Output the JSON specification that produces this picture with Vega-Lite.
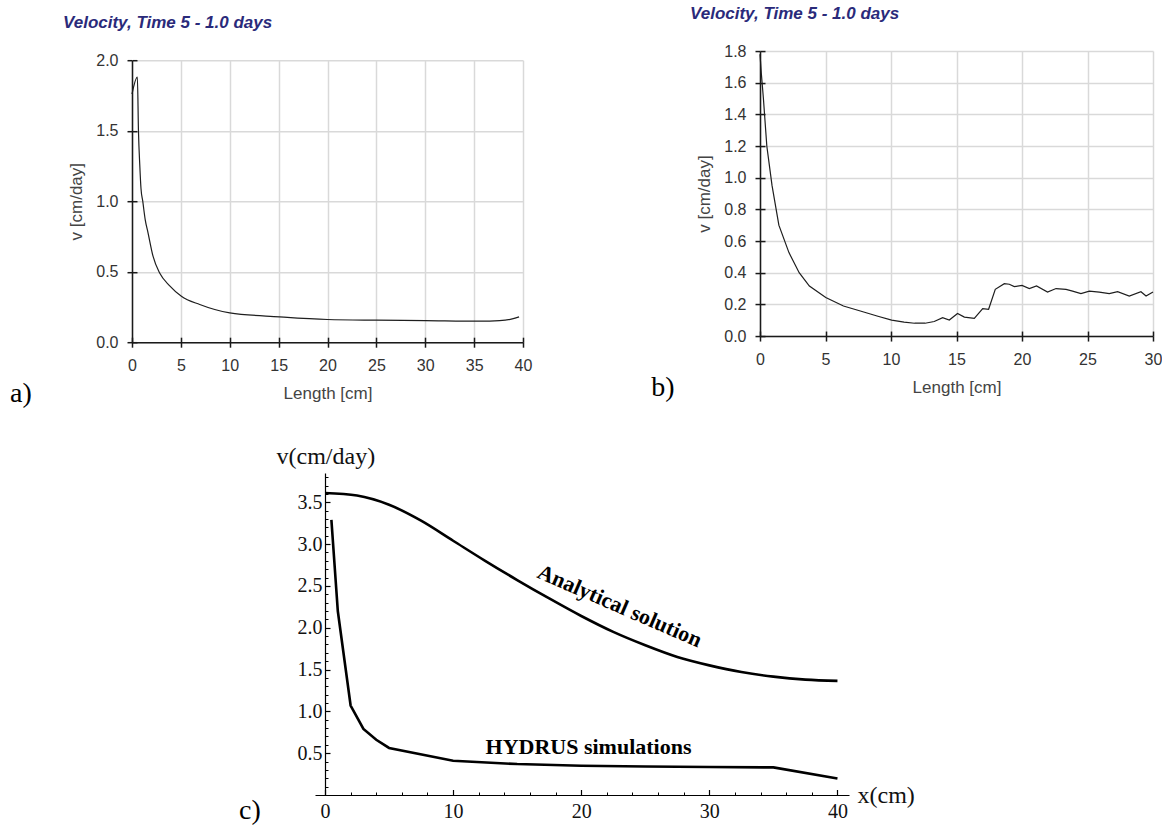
{
  "$schema": "https://vega.github.io/schema/vega-lite/v6.json",
  "background": "white",
  "padding": {"left": 10, "top": 5, "right": 0, "bottom": 0},
  "config": {"view": {"stroke": null}},
  "spacing": 27,
  "vconcat": [
    {
      "spacing": 119,
      "center": true,
      "hconcat": [
        {
          "title": {"text": "a)", "orient": "bottom", "anchor": "start", "frame": "bounds", "offset": 0, "dx": -53, "dy": -21.4, "font": "Liberation Serif", "fontSize": 28, "fontWeight": "normal", "color": "#000000"},
          "vconcat": [
            {
              "width": 391,
              "height": 282,
              "title": {"text": "Velocity, Time 5 - 1.0 days", "anchor": "start", "frame": "group", "dx": -69, "offset": 20, "font": "Liberation Sans", "fontSize": 17, "fontWeight": "bold", "fontStyle": "italic", "color": "#2a2a7a"},
              "data": {"values": [
                {"length": 0, "v": 1.76}, {"length": 0.55, "v": 1.88}, {"length": 0.66, "v": 1.5}, {"length": 0.8, "v": 1.25},
                {"length": 0.92, "v": 1.09}, {"length": 1.1, "v": 1.0}, {"length": 1.35, "v": 0.87}, {"length": 1.64, "v": 0.776},
                {"length": 2.15, "v": 0.61}, {"length": 2.83, "v": 0.49}, {"length": 3.86, "v": 0.40}, {"length": 5.05, "v": 0.326},
                {"length": 6.93, "v": 0.267}, {"length": 10, "v": 0.208}, {"length": 15.1, "v": 0.18}, {"length": 20, "v": 0.161},
                {"length": 25, "v": 0.156}, {"length": 30, "v": 0.153}, {"length": 35.6, "v": 0.149}, {"length": 37.6, "v": 0.153},
                {"length": 38.9, "v": 0.165}, {"length": 39.6, "v": 0.18}
              ]},
              "resolve": {"axis": {"x": "independent", "y": "independent"}},
              "layer": [
                {
                  "mark": {"type": "line", "color": "#1e1e1e", "strokeWidth": 1.2, "interpolate": "monotone"},
                  "encoding": {
                    "x": {"field": "length", "type": "quantitative", "scale": {"domain": [0, 40], "nice": false, "zero": false},
                      "axis": {"orient": "bottom", "values": [0, 5, 10, 15, 20, 25, 30, 35, 40], "format": "d", "domain": false, "grid": true, "gridColor": "#d9d9d9", "gridWidth": 1.5, "tickSize": 5, "tickColor": "#1a1a1a", "tickWidth": 1.5, "labelFont": "Liberation Sans", "labelFontSize": 16, "labelColor": "#333333", "labelPadding": 10, "labelFlush": false, "labelOverlap": false, "title": "Length [cm]", "titleFont": "Liberation Sans", "titleFontSize": 17, "titleFontWeight": "normal", "titleColor": "#444444", "titlePadding": 12, "zindex": 0}},
                    "y": {"field": "v", "type": "quantitative", "scale": {"domain": [0, 2], "nice": false},
                      "axis": {"orient": "left", "values": [0, 0.5, 1, 1.5, 2], "format": ".1f", "domain": false, "grid": true, "gridColor": "#d9d9d9", "gridWidth": 1.5, "tickSize": 5, "tickColor": "#1a1a1a", "tickWidth": 1.5, "labelFont": "Liberation Sans", "labelFontSize": 16, "labelColor": "#333333", "labelPadding": 9, "labelFlush": false, "labelOverlap": false, "title": "v [cm/day]", "titleFont": "Liberation Sans", "titleFontSize": 17, "titleFontWeight": "normal", "titleColor": "#444444", "titlePadding": 10, "zindex": 0}}
                  }
                },
                {
                  "mark": {"type": "line", "strokeOpacity": 0},
                  "encoding": {
                    "x": {"field": "length", "type": "quantitative", "scale": {"domain": [0, 40], "nice": false, "zero": false},
                      "axis": {"orient": "bottom", "values": [0, 5, 10, 15, 20, 25, 30, 35, 40], "domain": true, "domainColor": "#1a1a1a", "domainWidth": 1.5, "grid": false, "labels": false, "tickSize": -5, "tickColor": "#1a1a1a", "tickWidth": 1.5, "title": null, "zindex": 1}},
                    "y": {"field": "v", "type": "quantitative", "scale": {"domain": [0, 2], "nice": false},
                      "axis": {"orient": "left", "values": [0, 0.5, 1, 1.5, 2], "domain": true, "domainColor": "#1a1a1a", "domainWidth": 1.5, "grid": false, "labels": false, "tickSize": -5, "tickColor": "#1a1a1a", "tickWidth": 1.5, "title": null, "zindex": 1}}
                  }
                }
              ]
            }
          ]
        },
        {
          "title": {"text": ["b)", ""], "lineHeight": 15.3, "orient": "bottom", "anchor": "start", "frame": "bounds", "offset": 0, "dx": -38.7, "dy": -21.4, "font": "Liberation Serif", "fontSize": 28, "fontWeight": "normal", "color": "#000000"},
          "vconcat": [
            {
              "width": 393,
              "height": 285,
              "title": {"text": "Velocity, Time 5 - 1.0 days", "anchor": "start", "frame": "group", "dx": -70, "offset": 20, "font": "Liberation Sans", "fontSize": 17, "fontWeight": "bold", "fontStyle": "italic", "color": "#2a2a7a"},
              "data": {"values": [
                {"length": 0, "v": 1.78}, {"length": 0.1, "v": 1.66}, {"length": 0.26, "v": 1.5}, {"length": 0.52, "v": 1.2},
                {"length": 0.92, "v": 0.95}, {"length": 1.44, "v": 0.7}, {"length": 2.21, "v": 0.527}, {"length": 2.99, "v": 0.40},
                {"length": 3.77, "v": 0.316}, {"length": 5.02, "v": 0.243}, {"length": 6.37, "v": 0.19}, {"length": 7.66, "v": 0.158},
                {"length": 9, "v": 0.125}, {"length": 10.05, "v": 0.101}, {"length": 11, "v": 0.088}, {"length": 11.8, "v": 0.081},
                {"length": 12.6, "v": 0.081}, {"length": 13.3, "v": 0.092}, {"length": 13.94, "v": 0.116}, {"length": 14.45, "v": 0.101},
                {"length": 15.08, "v": 0.143}, {"length": 15.6, "v": 0.12}, {"length": 16.36, "v": 0.112}, {"length": 17.0, "v": 0.173},
                {"length": 17.45, "v": 0.169}, {"length": 17.96, "v": 0.295}, {"length": 18.65, "v": 0.331}, {"length": 19.03, "v": 0.327},
                {"length": 19.41, "v": 0.312}, {"length": 20.0, "v": 0.32}, {"length": 20.56, "v": 0.30}, {"length": 21.11, "v": 0.316},
                {"length": 21.95, "v": 0.278}, {"length": 22.6, "v": 0.30}, {"length": 23.36, "v": 0.295}, {"length": 23.86, "v": 0.284},
                {"length": 24.5, "v": 0.268}, {"length": 25.14, "v": 0.284}, {"length": 25.9, "v": 0.278}, {"length": 26.66, "v": 0.268},
                {"length": 27.3, "v": 0.28}, {"length": 28.19, "v": 0.253}, {"length": 29.08, "v": 0.28}, {"length": 29.47, "v": 0.253},
                {"length": 30, "v": 0.278}
              ]},
              "resolve": {"axis": {"x": "independent", "y": "independent"}},
              "layer": [
                {
                  "mark": {"type": "line", "color": "#1e1e1e", "strokeWidth": 1.2, "interpolate": "linear"},
                  "encoding": {
                    "x": {"field": "length", "type": "quantitative", "scale": {"domain": [0, 30], "nice": false, "zero": false},
                      "axis": {"orient": "bottom", "values": [0, 5, 10, 15, 20, 25, 30], "format": "d", "domain": false, "grid": true, "gridColor": "#d9d9d9", "gridWidth": 1.5, "tickSize": 5, "tickColor": "#1a1a1a", "tickWidth": 1.5, "labelFont": "Liberation Sans", "labelFontSize": 16, "labelColor": "#333333", "labelPadding": 10, "labelFlush": false, "labelOverlap": false, "title": "Length [cm]", "titleFont": "Liberation Sans", "titleFontSize": 17, "titleFontWeight": "normal", "titleColor": "#444444", "titlePadding": 12, "zindex": 0}},
                    "y": {"field": "v", "type": "quantitative", "scale": {"domain": [0, 1.8], "nice": false},
                      "axis": {"orient": "left", "values": [0, 0.2, 0.4, 0.6, 0.8, 1.0, 1.2, 1.4, 1.6, 1.8], "format": ".1f", "domain": false, "grid": true, "gridColor": "#d9d9d9", "gridWidth": 1.5, "tickSize": 5, "tickColor": "#1a1a1a", "tickWidth": 1.5, "labelFont": "Liberation Sans", "labelFontSize": 16, "labelColor": "#333333", "labelPadding": 9, "labelFlush": false, "labelOverlap": false, "title": "v [cm/day]", "titleFont": "Liberation Sans", "titleFontSize": 17, "titleFontWeight": "normal", "titleColor": "#444444", "titlePadding": 10, "zindex": 0}}
                  }
                },
                {
                  "mark": {"type": "line", "strokeOpacity": 0},
                  "encoding": {
                    "x": {"field": "length", "type": "quantitative", "scale": {"domain": [0, 30], "nice": false, "zero": false},
                      "axis": {"orient": "bottom", "values": [0, 5, 10, 15, 20, 25, 30], "domain": true, "domainColor": "#1a1a1a", "domainWidth": 1.5, "grid": false, "labels": false, "tickSize": -5, "tickColor": "#1a1a1a", "tickWidth": 1.5, "title": null, "zindex": 1}},
                    "y": {"field": "v", "type": "quantitative", "scale": {"domain": [0, 1.8], "nice": false},
                      "axis": {"orient": "left", "values": [0, 0.2, 0.4, 0.6, 0.8, 1.0, 1.2, 1.4, 1.6, 1.8], "domain": true, "domainColor": "#1a1a1a", "domainWidth": 1.5, "grid": false, "labels": false, "tickSize": -5, "tickColor": "#1a1a1a", "tickWidth": 1.5, "title": null, "zindex": 1}}
                  }
                }
              ]
            }
          ]
        }
      ]
    },
    {
      "spacing": 7,
      "hconcat": [
        {
          "width": 100,
          "height": 1,
          "data": {"values": []},
          "mark": {"type": "point", "opacity": 0}
        },
        {
          "title": {"text": "c)", "orient": "bottom", "anchor": "start", "frame": "bounds", "offset": 0, "dx": -37, "dy": -25, "font": "Liberation Serif", "fontSize": 28, "fontWeight": "normal", "color": "#000000"},
          "vconcat": [
            {
              "width": 534,
              "height": 322,
              "resolve": {"axis": {"x": "independent", "y": "independent"}},
              "layer": [
                {
                  "data": {"values": [
                    {"x": 0, "v": 3.61}, {"x": 2.5, "v": 3.58}, {"x": 5, "v": 3.47}, {"x": 7.5, "v": 3.28},
                    {"x": 10, "v": 3.04}, {"x": 12.5, "v": 2.8}, {"x": 15, "v": 2.57}, {"x": 17.5, "v": 2.35},
                    {"x": 20, "v": 2.14}, {"x": 22.5, "v": 1.95}, {"x": 25, "v": 1.79}, {"x": 27.5, "v": 1.65},
                    {"x": 30, "v": 1.55}, {"x": 32.5, "v": 1.47}, {"x": 35, "v": 1.415}, {"x": 37.5, "v": 1.38},
                    {"x": 40, "v": 1.365}
                  ]},
                  "mark": {"type": "line", "color": "#000000", "strokeWidth": 2.6, "interpolate": "monotone"},
                  "encoding": {
                    "x": {"field": "x", "type": "quantitative", "scale": {"domain": [-0.78, 40.9], "nice": false, "zero": false},
                      "axis": {"orient": "bottom", "values": [0, 10, 20, 30, 40], "format": "d", "domain": true, "domainColor": "#000000", "domainWidth": 1.2, "grid": false, "tickSize": -5.5, "tickColor": "#000000", "tickWidth": 1.2, "labelFont": "Liberation Serif", "labelFontSize": 20, "labelColor": "#111111", "labelPadding": 12, "labelFlush": false, "labelOverlap": false, "title": "x(cm)", "titleAngle": 0, "titleX": 542, "titleY": 0, "titleAlign": "left", "titleBaseline": "middle", "titleFont": "Liberation Serif", "titleFontSize": 24, "titleFontWeight": "normal", "titleColor": "#111111"}},
                    "y": {"field": "v", "type": "quantitative", "scale": {"domain": [0, 3.85], "nice": false, "zero": false},
                      "axis": {"orient": "left", "offset": -10, "values": [0.5, 1, 1.5, 2, 2.5, 3, 3.5], "format": ".1f", "domain": true, "domainColor": "#000000", "domainWidth": 1.2, "grid": false, "tickSize": -5, "tickColor": "#000000", "tickWidth": 1.2, "labelFont": "Liberation Serif", "labelFontSize": 20, "labelColor": "#111111", "labelPadding": 8, "labelFlush": false, "labelOverlap": false, "title": "v(cm/day)", "titleAngle": 0, "titleX": -49, "titleY": -17, "titleAlign": "left", "titleBaseline": "middle", "titleFont": "Liberation Serif", "titleFontSize": 24, "titleFontWeight": "normal", "titleColor": "#111111"}}
                  }
                },
                {
                  "data": {"values": [
                    {"x": 0.5, "v": 3.29}, {"x": 1, "v": 2.2}, {"x": 2, "v": 1.07}, {"x": 3, "v": 0.79},
                    {"x": 4, "v": 0.66}, {"x": 5, "v": 0.563}, {"x": 10, "v": 0.41}, {"x": 15, "v": 0.37},
                    {"x": 20, "v": 0.35}, {"x": 25, "v": 0.34}, {"x": 30, "v": 0.335}, {"x": 35, "v": 0.33},
                    {"x": 40, "v": 0.197}
                  ]},
                  "mark": {"type": "line", "color": "#000000", "strokeWidth": 2.6, "interpolate": "linear"},
                  "encoding": {
                    "x": {"field": "x", "type": "quantitative", "scale": {"domain": [-0.78, 40.9], "nice": false, "zero": false},
                      "axis": {"orient": "bottom", "values": [2, 4, 6, 8, 12, 14, 16, 18, 22, 24, 26, 28, 32, 34, 36, 38], "domain": false, "grid": false, "labels": false, "tickSize": -3, "tickColor": "#000000", "tickWidth": 1, "title": null}},
                    "y": {"field": "v", "type": "quantitative", "scale": {"domain": [0, 3.85], "nice": false, "zero": false},
                      "axis": {"orient": "left", "offset": -10, "values": [0.1, 0.2, 0.3, 0.4, 0.6, 0.7, 0.8, 0.9, 1.1, 1.2, 1.3, 1.4, 1.6, 1.7, 1.8, 1.9, 2.1, 2.2, 2.3, 2.4, 2.6, 2.7, 2.8, 2.9, 3.1, 3.2, 3.3, 3.4, 3.6, 3.7, 3.8], "domain": false, "grid": false, "labels": false, "tickSize": -3, "tickColor": "#000000", "tickWidth": 1, "title": null}}
                  }
                },
                {
                  "data": {"values": [
                    {"x": 23.0, "v": 2.26, "label": "Analytical solution"}
                  ]},
                  "mark": {"type": "text", "font": "Liberation Serif", "fontSize": 22, "fontWeight": "bold", "color": "#000000", "angle": 23.5, "align": "center", "baseline": "middle"},
                  "encoding": {
                    "x": {"field": "x", "type": "quantitative", "scale": {"domain": [-0.78, 40.9], "nice": false, "zero": false}, "axis": null},
                    "y": {"field": "v", "type": "quantitative", "scale": {"domain": [0, 3.85], "nice": false, "zero": false}, "axis": null},
                    "text": {"field": "label"}
                  }
                },
                {
                  "data": {"values": [
                    {"x": 20.57, "v": 0.572, "label": "HYDRUS simulations"}
                  ]},
                  "mark": {"type": "text", "font": "Liberation Serif", "fontSize": 22, "fontWeight": "bold", "color": "#000000", "align": "center", "baseline": "middle"},
                  "encoding": {
                    "x": {"field": "x", "type": "quantitative", "scale": {"domain": [-0.78, 40.9], "nice": false, "zero": false}, "axis": null},
                    "y": {"field": "v", "type": "quantitative", "scale": {"domain": [0, 3.85], "nice": false, "zero": false}, "axis": null},
                    "text": {"field": "label"}
                  }
                }
              ]
            }
          ]
        }
      ]
    }
  ]
}
